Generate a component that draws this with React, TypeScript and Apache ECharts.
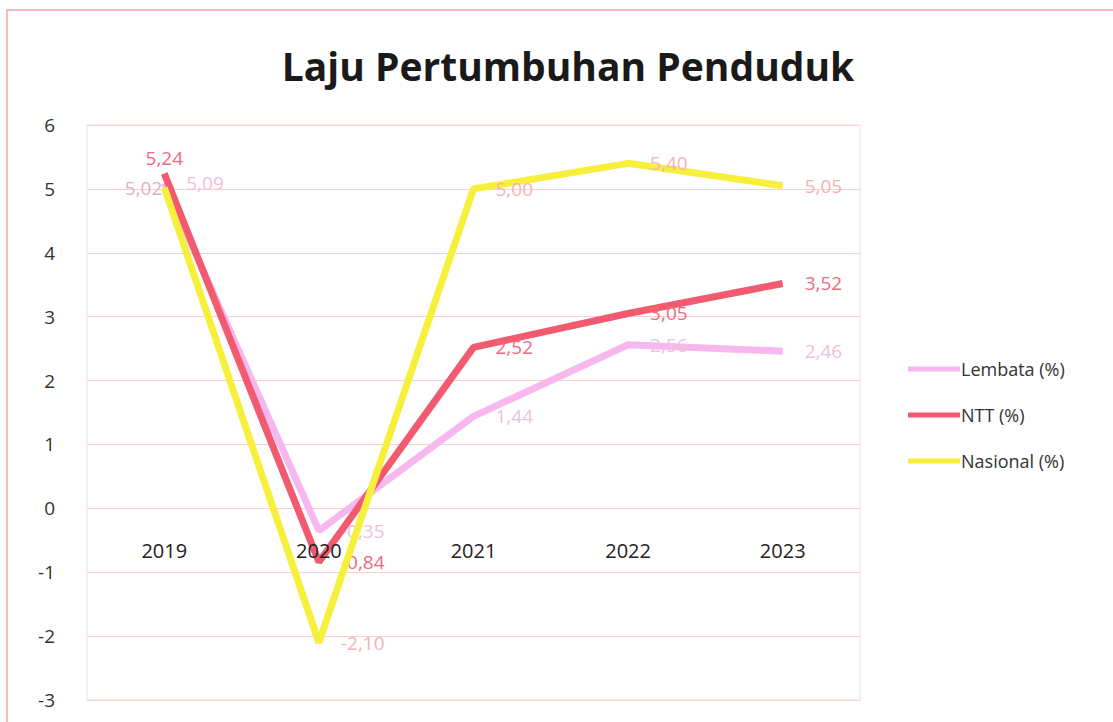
import React, { useEffect, useRef } from "react";
import * as echarts from "echarts";

const years = ["2019", "2020", "2021", "2022", "2023"];
const lembata = [5.09, -0.35, 1.44, 2.56, 2.46];
const ntt = [5.24, -0.84, 2.52, 3.05, 3.52];
const nasional = [5.02, -2.1, 5.0, 5.4, 5.05];
const seriesNames = ["Lembata (%)", "NTT (%)", "Nasional (%)"];
const yTicks = { min: -3, max: 6, interval: 1 };

const fmt = (v: number) => v.toFixed(2).replace(".", ",");

export default function App() {
  const ref = useRef<HTMLDivElement>(null);
  useEffect(() => {
    if (!ref.current) return;
    const chart = echarts.init(ref.current, undefined, { renderer: "svg" });
    const labelFont = "'Open Sans', sans-serif";
    const mk = (vals: number[], overrides: Record<number, any>) =>
      vals.map((v, i) => (overrides[i] ? { value: v, label: overrides[i] } : v));
    chart.setOption({
      animation: false,
      backgroundColor: "#ffffff",
      title: {
        text: "Laju Pertumbuhan Penduduk",
        left: 563,
        top: 41,
        textAlign: "center",
        textStyle: {
          fontFamily: "'Open Sans', sans-serif",
          fontWeight: "bold",
          fontSize: 39,
          color: "#1a1a1a",
        },
      },
      graphic: [
        {
          type: "rect",
          shape: { x: 7, y: 10, width: 1130, height: 730 },
          style: { fill: "none", stroke: "#f2a4a4", lineWidth: 1.5 },
          silent: true,
        },
      ],
      legend: {
        orient: "vertical",
        left: 903,
        top: 355,
        icon: "rect",
        itemWidth: 52,
        itemHeight: 5,
        itemGap: 28,
        textStyle: {
          fontFamily: "'Open Sans', sans-serif",
          fontSize: 18,
          color: "#333333",
          padding: [0, 0, 0, -4],
        },
        data: seriesNames,
      },
      grid: {
        left: 87,
        right: 253,
        top: 125,
        bottom: 22,
        show: true,
        borderColor: "#f5dede",
        borderWidth: 1,
        containLabel: false,
        outerBoundsMode: "none",
      },
      xAxis: {
        type: "category",
        data: years,
        boundaryGap: true,
        z: 10,
        axisLine: { show: false, onZero: false },
        axisTick: { show: false },
        axisLabel: {
          margin: -160,
          fontFamily: "'Open Sans', sans-serif",
          fontSize: 20,
          color: "#222222",
        },
        splitLine: { show: false },
      },
      yAxis: {
        type: "value",
        min: yTicks.min,
        max: yTicks.max,
        interval: yTicks.interval,
        axisLine: { show: false },
        axisTick: { show: false },
        axisLabel: {
          margin: 32,
          fontFamily: "'Open Sans', sans-serif",
          fontSize: 19,
          color: "#333333",
        },
        splitLine: { show: true, lineStyle: { color: "#f7d0d0", width: 1 } },
      },
      series: [
        {
          name: seriesNames[0],
          type: "line",
          data: mk(lembata, {}),
          symbol: "circle",
          symbolSize: 0.01,
          showSymbol: true,
          lineStyle: { color: "#f6b8ee", width: 7 },
          itemStyle: { color: "#f6b8ee" },
          label: {
            show: true,
            position: "right",
            distance: 22,
            formatter: (p: any) => fmt(p.value),
            fontFamily: labelFont,
            fontSize: 19,
            color: "#f2c0dc",
          },
          z: 2,
        },
        {
          name: seriesNames[1],
          type: "line",
          data: mk(ntt, { 0: { position: "top", distance: 6 } }),
          symbol: "circle",
          symbolSize: 0.01,
          showSymbol: true,
          lineStyle: { color: "#f25a70", width: 7 },
          itemStyle: { color: "#f25a70" },
          label: {
            show: true,
            position: "right",
            distance: 22,
            formatter: (p: any) => fmt(p.value),
            fontFamily: labelFont,
            fontSize: 19,
            color: "#f06a7e",
          },
          z: 3,
        },
        {
          name: seriesNames[2],
          type: "line",
          data: mk(nasional, { 0: { position: "left", distance: 2, color: "#dcb0c8" } }),
          symbol: "circle",
          symbolSize: 0.01,
          showSymbol: true,
          lineStyle: { color: "#f6f03c", width: 7 },
          itemStyle: { color: "#f6f03c" },
          label: {
            show: true,
            position: "right",
            distance: 22,
            formatter: (p: any) => fmt(p.value),
            fontFamily: labelFont,
            fontSize: 19,
            color: "#f2b4b4",
          },
          z: 4,
        },
      ],
    });
    return () => chart.dispose();
  }, []);
  return (
    <div
      ref={ref}
      style={{ position: "fixed", left: 0, top: 0, width: 1113, height: 722 }}
    />
  );
}
